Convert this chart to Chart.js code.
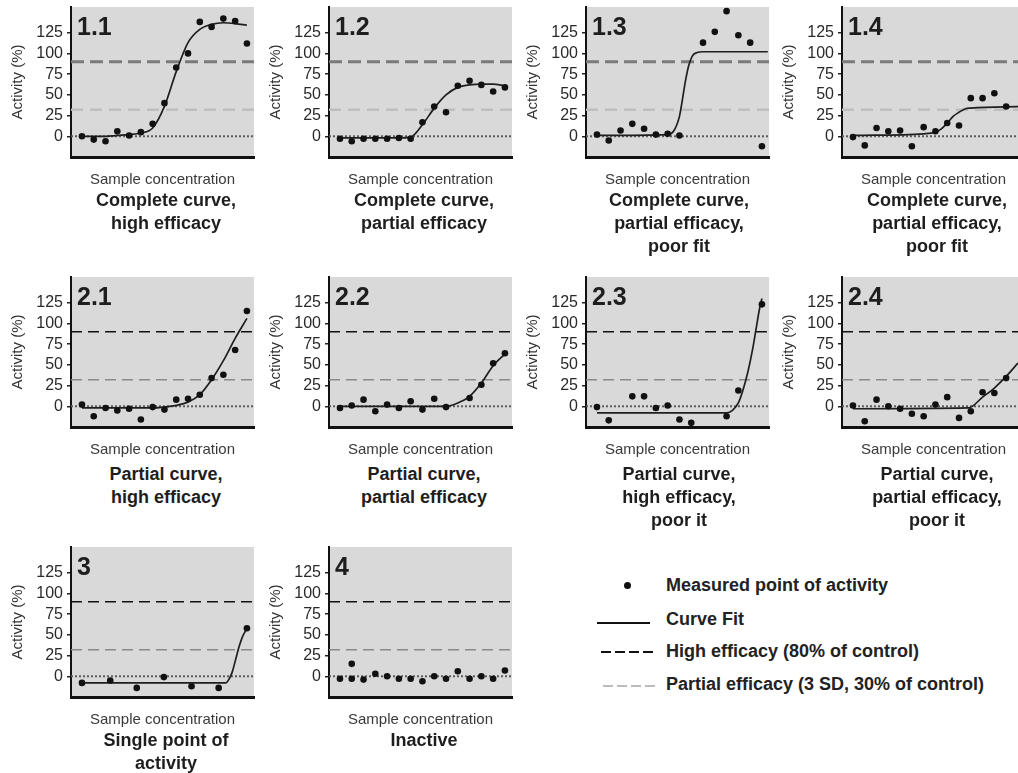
<!DOCTYPE html>
<html>
<head>
<meta charset="utf-8">
<title>Curve classes</title>
<script src="https://cdn.jsdelivr.net/npm/chart.js@4.4.1/dist/chart.umd.min.js"></script>
<style>
  html, body { margin: 0; padding: 0; background: #fff; }
  body { width: 1018px; height: 773px; overflow: hidden; position: relative;
         font-family: 'Liberation Sans', Arial, sans-serif; color: #222; }
  canvas.panel { position: absolute; }
  .caption { position: absolute; width: 240px; text-align: center; font-weight: bold;
             font-size: 18px; line-height: 23px; color: #1e1e1e; }
  .key { position: absolute; left: 666px; font-weight: bold; font-size: 18px; line-height: 20px; color: #222; white-space: nowrap; }
  .mark { position: absolute; }
</style>
</head>
<body>
<script>
// thresholds and axis range (activity, % of control)
const HIGH_EFFICACY = 90;
const PARTIAL_EFFICACY = 32;
const Y_MIN = -25;
const Y_MAX = 156;
const Y_TICKS = [0, 25, 50, 75, 100, 125];
// concentration steps run 0..14 (log spaced)
const X_MIN = -0.93;
const X_MAX = 14.6;

// measured activity per concentration step, null where no point
const act11 = [0, -4, -6, 6, 1, 5, 15, 40, 83, 100, 138, 132, 142, 139, 112];
const act12 = [-3, -6, -3, -3, -3, -2, -3, 17, 36, 29, 61, 67, 62, 54, 59];
const act13 = [2, -5, 7, 15, 9, 2, 3, 1, null, 113, 126, 151, 122, 113, -12];
const act14 = [-1, -11, 10, 6, 7, -12, 11, 6, 16, 13, 46, 46, 52, 36];
const act21 = [2, -12, -2, -5, -3, -16, -1, -4, 8, 9, 14, 34, 38, 68, 115];
const act22 = [-2, 1, 8, -6, 2, -2, 6, -4, 9, -1, null, 10, 26, 52, 64];
const act23 = [-1, -17, null, 12, 12, -2, 1, -16, -20, null, null, -12, 19, null, 123];
const act24 = [1, -18, 8, 0, -3, -9, -12, 2, 11, -14, -6, 17, 16, 34];
const dose3 = [0, 2.4, 4.65, 6.95, 9.3, 11.6, 14];
const act3 = [-8, -5, -14, -1, -12, -14, 58];
const dose4 = [0, 1, 1, 2, 3, 4, 5, 6, 7, 8, 9, 10, 11, 12, 13, 14];
const act4 = [-3, -3, 15, -4, 3, 0, -3, -3, -6, 0, -3, 6, -3, 0, -3, 7];

// fitted curves as [concentration step, activity]
const fit11 = [[0, 0], [1, 0], [2, 0], [3, 1], [4, 2], [5, 4], [6, 10], [7, 36], [8, 78], [9, 113], [10, 129], [11, 135], [12, 137], [13, 136], [14, 134]];
const fit12 = [[0, -2], [5, -2], [6, -1], [7, 14], [8, 34], [9, 50], [10, 59], [11, 62], [12, 63], [13, 63], [14, 61]];
const fit13 = [[0, 1], [6, 2], [6.5, 6], [7, 24], [7.25, 44], [7.5, 66], [7.8, 86], [8.1, 97], [8.5, 101], [9, 102], [14.5, 102]];
const fit14 = [[0, 1], [6, 3], [7, 5], [7.5, 9], [8, 16], [8.5, 24], [9, 29], [9.5, 33], [10, 34], [14.5, 36]];
const fit21 = [[0, -2], [6, -2], [7, -1], [8, 1], [9, 5], [10, 14], [11, 32], [12, 55], [13, 82], [14, 106]];
const fit22 = [[0, 0], [9, 0], [10, 4], [11, 12], [12, 28], [13, 49], [14, 63]];
const fit23 = [[0, -8], [11, -8], [11.5, -5], [12, 4], [12.4, 20], [12.8, 41], [13.25, 72], [13.5, 93], [13.8, 118], [14, 130]];
const fit24 = [[0, -3], [9.8, -2], [11, 11], [12, 22], [13, 36], [14, 52]];
const fit3 = [[0, -8], [12.2, -8], [12.5, -3], [12.75, 5], [13, 18], [13.3, 34], [13.6, 47], [14, 58]];

const panels = [
  { label: '1.1', row: 0, col: 0, act: act11, fit: fit11, caption: ['Complete curve,', 'high efficacy'] },
  { label: '1.2', row: 0, col: 1, act: act12, fit: fit12, caption: ['Complete curve,', 'partial efficacy'] },
  { label: '1.3', row: 0, col: 2, act: act13, fit: fit13, caption: ['Complete curve,', 'partial efficacy,', 'poor fit'] },
  { label: '1.4', row: 0, col: 3, act: act14, fit: fit14, caption: ['Complete curve,', 'partial efficacy,', 'poor fit'] },
  { label: '2.1', row: 1, col: 0, act: act21, fit: fit21, caption: ['Partial curve,', 'high efficacy'] },
  { label: '2.2', row: 1, col: 1, act: act22, fit: fit22, caption: ['Partial curve,', 'partial efficacy'] },
  { label: '2.3', row: 1, col: 2, act: act23, fit: fit23, caption: ['Partial curve,', 'high efficacy,', 'poor it'] },
  { label: '2.4', row: 1, col: 3, act: act24, fit: fit24, caption: ['Partial curve,', 'partial efficacy,', 'poor it'] },
  { label: '3', row: 2, col: 0, dose: dose3, act: act3, fit: fit3, caption: ['Single point of', 'activity'] },
  { label: '4', row: 2, col: 1, dose: dose4, act: act4, fit: null, caption: ['Inactive'] },
];

// canvas placement
const COL_X = [0, 258, 515, 771];
const ROW_Y = [0, 270, 540];
const CAPTION_X = [166, 424, 679, 937];
const CAPTION_Y = [189, 463, 729];
const CW = 258;
const CH = 190;
const FONT = "'Liberation Sans', Arial, sans-serif";

// top row draws the thresholds heavier and in grey
const REF_STYLE = [
  { high: ['#7b7b7b', 3, [13, 6]], partial: ['#bebebe', 2.5, [12, 7]] },
  { high: ['#111111', 1.6, [11, 6]], partial: ['#8a8a8a', 1.4, [11, 6]] },
];

const plotFrame = {
  id: 'plotFrame',
  beforeDraw(chart) {
    const { ctx, chartArea: a } = chart;
    ctx.save();
    ctx.fillStyle = '#d9d9d9';
    ctx.fillRect(a.left, a.top, a.right - a.left, a.bottom - a.top);
    ctx.restore();
  },
  afterDraw(chart, args, opts) {
    const { ctx, chartArea: a } = chart;
    ctx.save();
    ctx.fillStyle = '#1e1e1e';
    ctx.font = 'bold 25px ' + FONT;
    ctx.textBaseline = 'alphabetic';
    ctx.fillText(opts.label, a.left + 6, a.top + 28);
    ctx.restore();
  },
};

function refLine(value, [color, width, dash]) {
  return {
    type: 'line',
    data: [{ x: X_MIN, y: value }, { x: X_MAX, y: value }],
    borderColor: color,
    borderWidth: width,
    borderDash: dash,
    pointRadius: 0,
    fill: false,
  };
}

function drawPanel(p) {
  const canvas = document.createElement('canvas');
  canvas.className = 'panel';
  canvas.width = CW;
  canvas.height = CH;
  canvas.style.left = COL_X[p.col] + 'px';
  canvas.style.top = ROW_Y[p.row] + 'px';
  document.body.appendChild(canvas);

  const points = [];
  p.act.forEach((v, i) => {
    if (v !== null) points.push({ x: p.dose ? p.dose[i] : i, y: v });
  });

  const style = REF_STYLE[p.row === 0 ? 0 : 1];
  const datasets = [
    { type: 'scatter', data: points, pointRadius: 3.3, pointBackgroundColor: '#111', pointBorderWidth: 0 },
  ];
  if (p.fit) {
    datasets.push({
      type: 'line',
      data: p.fit.map(([x, y]) => ({ x, y })),
      borderColor: '#1f1f1f',
      borderWidth: 1.7,
      pointRadius: 0,
      cubicInterpolationMode: 'monotone',
      fill: false,
    });
  }
  datasets.push(refLine(0, ['#5c5c5c', 2, [2, 2]]));
  datasets.push(refLine(PARTIAL_EFFICACY, style.partial));
  datasets.push(refLine(HIGH_EFFICACY, style.high));

  new Chart(canvas, {
    type: 'scatter',
    data: { datasets },
    plugins: [plotFrame],
    options: {
      responsive: false,
      animation: false,
      events: [],
      layout: { padding: { top: 7, right: 3, left: 0, bottom: 0 } },
      plugins: {
        legend: { display: false },
        tooltip: { enabled: false },
        plotFrame: { label: p.label },
      },
      scales: {
        x: {
          type: 'linear',
          min: X_MIN,
          max: X_MAX,
          ticks: { display: false },
          grid: { display: false },
          border: { display: true, color: '#111', width: 3 },
          title: {
            display: true,
            text: 'Sample concentration',
            color: '#3a3a3a',
            font: { family: FONT, size: 15 },
            padding: { top: 0, bottom: 1 },
          },
          afterFit: (s) => {
            s.height = CH - 157;
            s.paddingLeft = 0;
            s.paddingRight = 0;
          },
        },
        y: {
          type: 'linear',
          min: Y_MIN,
          max: Y_MAX,
          afterBuildTicks: (s) => {
            s.ticks = Y_TICKS.map((value) => ({ value }));
          },
          ticks: { color: '#2a2a2a', font: { family: FONT, size: 16 }, padding: 4 },
          grid: { drawOnChartArea: false, drawTicks: true, tickLength: 4, color: '#222', lineWidth: 1.5 },
          border: { display: true, color: '#111', width: 2 },
          title: {
            display: true,
            text: 'Activity (%)',
            color: '#333',
            font: { family: FONT, size: 15 },
            padding: { top: 9, bottom: 0 },
          },
          afterFit: (s) => {
            s.width = 71;
            s.paddingTop = 0;
            s.paddingBottom = 0;
          },
        },
      },
    },
  });

  const cap = document.createElement('div');
  cap.className = 'caption';
  cap.style.left = (CAPTION_X[p.col] - 120) + 'px';
  cap.style.top = CAPTION_Y[p.row] + 'px';
  cap.innerHTML = p.caption.join('<br>');
  document.body.appendChild(cap);
}

panels.forEach(drawPanel);
</script>

<!-- key -->
<div class="mark" style="left:624px;top:582px;width:7px;height:7px;border-radius:50%;background:#111"></div>
<div class="key" style="top:575px">Measured point of activity</div>
<div class="mark" style="left:597px;top:622px;width:53px;height:2px;background:#111"></div>
<div class="key" style="top:609px">Curve Fit</div>
<div class="mark" style="left:601px;top:651px;width:54px;height:2px;background:repeating-linear-gradient(90deg,#111 0 10px,transparent 10px 14px)"></div>
<div class="key" style="top:641px">High efficacy (80% of control)</div>
<div class="mark" style="left:603px;top:685px;width:52px;height:2px;background:repeating-linear-gradient(90deg,#bbb 0 10px,transparent 10px 14px)"></div>
<div class="key" style="top:674px">Partial efficacy (3 SD, 30% of control)</div>
</body>
</html>
